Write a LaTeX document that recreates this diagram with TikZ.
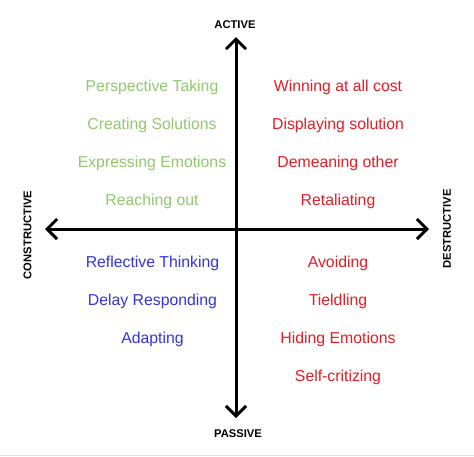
\documentclass[tikz,border=0pt]{standalone}
\usepackage{fontspec}
\setmainfont{Liberation Sans}
\usetikzlibrary{arrows.meta}
\definecolor{cgreen}{RGB}{146,200,110}
\definecolor{cred}{RGB}{232,28,36}
\definecolor{cblue}{RGB}{52,52,222}
\definecolor{cgray}{RGB}{224,224,224}
\tikzset{
  axis/.style={line width=3pt,-{Straight Barb[length=10pt,width=20pt]}},
  item/.style={anchor=base,inner sep=0pt,font=\fontsize{15.8pt}{18pt}\selectfont},
  good/.style={item,text=cgreen},
  bad/.style={item,text=cred},
  calm/.style={item,text=cblue},
  axlabel/.style={inner sep=0pt,font=\fontsize{11.2pt}{13pt}\selectfont\bfseries},
}
\begin{document}
\begin{tikzpicture}[x=1pt,y=-1pt]
\useasboundingbox (0,0) rectangle (474,456);
\fill[white] (0,0) rectangle (474,456);
\coordinate (gl) at (0,455);
\coordinate (gr) at (474,455);
\draw[cgray,line width=1pt] (gl) -- (gr);
\coordinate (o) at (236,229);
\coordinate (top) at (236,37);
\coordinate (bot) at (236,418);
\coordinate (lft) at (45,229);
\coordinate (rgt) at (429,229);
\draw[axis] (o) -- (top);
\draw[axis] (o) -- (bot);
\draw[axis] (o) -- (lft);
\draw[axis] (o) -- (rgt);
\node[axlabel,anchor=base] (active) at (235,28.5) {ACTIVE};
\node[axlabel,anchor=base] (passive) at (238,437.5) {PASSIVE};
\node[axlabel,rotate=90] (cons) at (27.5,235) {CONSTRUCTIVE};
\node[axlabel,rotate=90] (dest) at (447,229) {DESTRUCTIVE};
\node[good] (g1) at (152,91.5) {Perspective Taking};
\node[good] (g2) at (152,129.5) {Creating Solutions};
\node[good] (g3) at (152,167.5) {Expressing Emotions};
\node[good] (g4) at (152,205.5) {Reaching out};
\node[bad] (r1) at (338,91.5) {Winning at all cost};
\node[bad] (r2) at (338,129.5) {Displaying solution};
\node[bad] (r3) at (338,167.5) {Demeaning other};
\node[bad] (r4) at (338,205.5) {Retaliating};
\node[calm] (b1) at (152.5,267) {Reflective Thinking};
\node[calm] (b2) at (152.5,305.5) {Delay Responding};
\node[calm] (b3) at (152.5,343.5) {Adapting};
\node[bad] (s1) at (338,267) {Avoiding};
\node[bad] (s2) at (338,305.5) {Tieldling};
\node[bad] (s3) at (338,343.5) {Hiding Emotions};
\node[bad] (s4) at (338,381.5) {Self-critizing};
\end{tikzpicture}
\end{document}
